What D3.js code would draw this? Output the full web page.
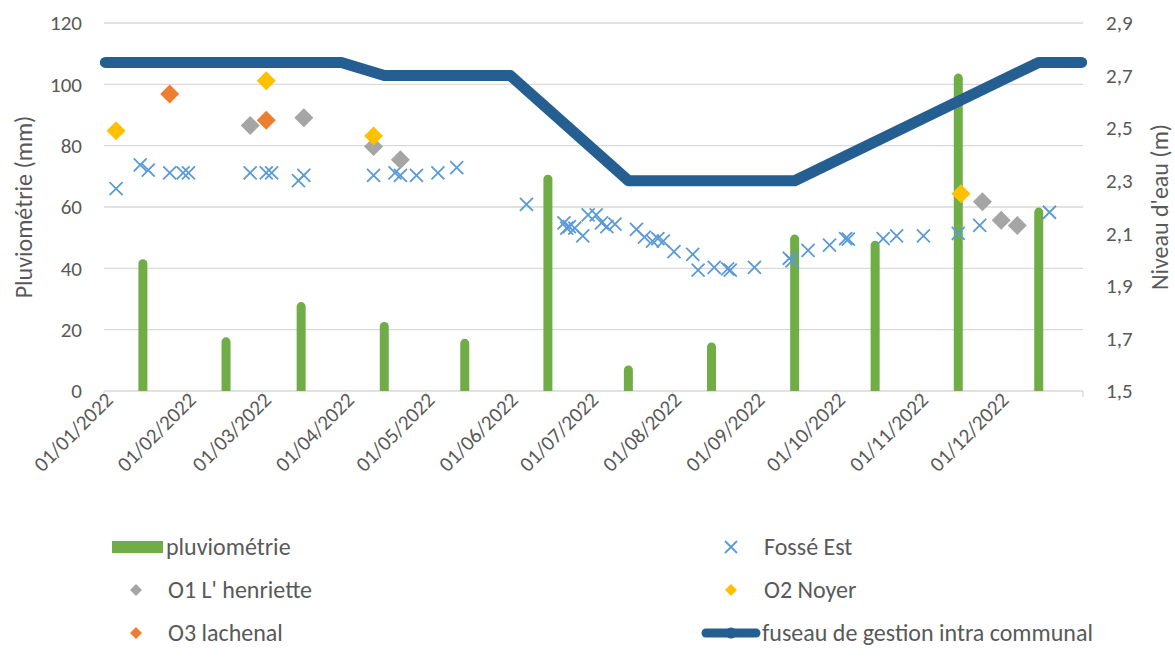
<!DOCTYPE html>
<html><head><meta charset="utf-8">
<script src="https://cdn.jsdelivr.net/npm/d3@7"></script>
<style>
html,body{margin:0;padding:0;background:#fff;}
svg{display:block;font-family:Carlito,Calibri,Lato,sans-serif;}
</style></head>
<body>
<svg id="chart" width="1175" height="669"></svg>
<script>
// ---------- DATA ----------
const rainDates = ["2022-01-15","2022-02-15","2022-03-15","2022-04-15","2022-05-15","2022-06-15","2022-07-15","2022-08-15","2022-09-15","2022-10-15","2022-11-15","2022-12-15"];
const rainValues = [43, 17.5, 29, 22.5, 17, 70.5, 8.3, 15.8, 51, 49, 103.5, 59.8];

const fosseDates = ["2022-01-05","2022-01-14","2022-01-17","2022-01-25","2022-01-30","2022-02-01","2022-02-24","2022-03-02","2022-03-04","2022-03-14","2022-03-16","2022-04-11","2022-04-19","2022-04-21","2022-04-27","2022-05-05","2022-05-12","2022-06-07","2022-06-21","2022-06-22","2022-06-23","2022-06-25","2022-06-28","2022-06-30","2022-07-03","2022-07-05","2022-07-07","2022-07-10","2022-07-18","2022-07-21","2022-07-24","2022-07-26","2022-07-28","2022-08-01","2022-08-08","2022-08-10","2022-08-16","2022-08-21","2022-08-22","2022-08-31","2022-09-13","2022-09-14","2022-09-20","2022-09-28","2022-10-04","2022-10-05","2022-10-18","2022-10-23","2022-11-02","2022-11-15","2022-11-23","2022-12-19"];
const fosseValues = [2.27,2.36,2.34,2.33,2.33,2.33,2.33,2.33,2.33,2.30,2.32,2.32,2.33,2.32,2.32,2.33,2.35,2.21,2.14,2.12,2.125,2.12,2.09,2.17,2.17,2.14,2.125,2.135,2.115,2.085,2.07,2.08,2.07,2.03,2.02,1.96,1.97,1.965,1.96,1.97,2.005,1.995,2.035,2.055,2.08,2.078,2.08,2.09,2.09,2.10,2.13,2.18];

const o1Dates = ["2022-02-24","2022-03-16","2022-04-11","2022-04-21","2022-11-24","2022-12-01","2022-12-07"];
const o1Values = [2.51, 2.54, 2.43, 2.38, 2.22, 2.15, 2.13];

const o2Dates = ["2022-01-05","2022-03-02","2022-04-11","2022-11-16"];
const o2Values = [2.49, 2.68, 2.47, 2.25];

const o3Dates = ["2022-01-25","2022-03-02"];
const o3Values = [2.63, 2.53];

const fuseauDates = ["2022-01-01","2022-03-30","2022-04-15","2022-06-01","2022-07-15","2022-09-15","2022-12-15","2022-12-31"];
const fuseauValues = [2.75, 2.75, 2.70, 2.70, 2.30, 2.30, 2.75, 2.75];

const monthTicks = ["2022-01-01","2022-02-01","2022-03-01","2022-04-01","2022-05-01","2022-06-01","2022-07-01","2022-08-01","2022-09-01","2022-10-01","2022-11-01","2022-12-01"];
const leftTicks = [0, 20, 40, 60, 80, 100, 120];
const rightTicks = [1.5, 1.7, 1.9, 2.1, 2.3, 2.5, 2.7, 2.9];

const seriesNames = ["pluviométrie","Fossé Est","O1 L' henriette","O2 Noyer","O3 lachenal","fuseau de gestion intra communal"];
const colors = {rain:"#70AD47", fosse:"#5B9BD5", o1:"#A5A5A5", o2:"#FFC000", o3:"#ED7D31", fuseau:"#255E91"};

// ---------- SCALES ----------
const parse = d3.timeParse("%Y-%m-%d");
const mid = s => new Date(parse(s).getTime() + 12*3600*1000);
const fmtDate = d3.timeFormat("%d/%m/%Y");

const plot = {left:104, right:1083, top:23, bottom:391};
const x = d3.scaleTime().domain([parse("2022-01-01"), parse("2023-01-01")]).range([plot.left, plot.right]);
const yL = d3.scaleLinear().domain([0,120]).range([plot.bottom, plot.top]);
const yR = d3.scaleLinear().domain([1.5,2.9]).range([plot.bottom, plot.top]);

const svg = d3.select("#chart");
const textColor = "#595959";
const fsNum = 21;   // numeric labels
const fsTxt = 24;   // word labels

// gridlines
svg.append("g").selectAll("line").data(leftTicks.filter(d=>d>0)).join("line")
  .attr("x1", plot.left).attr("x2", plot.right)
  .attr("y1", d=>yL(d)).attr("y2", d=>yL(d))
  .attr("stroke","#D9D9D9").attr("stroke-width",1.3);

// x axis line + ticks
const xAxisG = svg.append("g").attr("transform",`translate(0,${plot.bottom})`);
xAxisG.append("line").attr("x1",plot.left).attr("x2",plot.right).attr("stroke","#D9D9D9").attr("stroke-width",1.3);
const tickDates = monthTicks.map(parse).concat([parse("2023-01-01")]);
xAxisG.selectAll("line.t").data(tickDates).join("line").attr("class","t")
  .attr("x1",d=>x(d)).attr("x2",d=>x(d)).attr("y1",0).attr("y2",6)
  .attr("stroke","#D9D9D9").attr("stroke-width",1.3);
xAxisG.selectAll("text").data(monthTicks.map(parse)).join("text")
  .attr("transform", d=>`translate(${x(d)+5},${5}) rotate(-45)`)
  .attr("text-anchor","end").attr("dy","0.35em")
  .attr("fill",textColor).attr("font-size",fsNum)
  .text(d=>fmtDate(d));

// left axis labels
svg.append("g").selectAll("text").data(leftTicks).join("text")
  .attr("x", 82).attr("y", d=>yL(d)).attr("dy","0.35em")
  .attr("text-anchor","end").attr("fill",textColor).attr("font-size",fsNum)
  .text(d=>d);
// right axis labels
svg.append("g").selectAll("text").data(rightTicks).join("text")
  .attr("x", 1106).attr("y", d=>yR(d)).attr("dy","0.35em")
  .attr("text-anchor","start").attr("fill",textColor).attr("font-size",fsNum)
  .text(d=>d3.format(".1f")(d).replace(".",","));

// axis titles
svg.append("text").attr("transform",`translate(24,207) rotate(-90)`)
  .attr("text-anchor","middle").attr("dy","0.35em").attr("fill",textColor).attr("font-size",fsTxt)
  .text("Pluviométrie (mm)");
svg.append("text").attr("transform",`translate(1160,207) rotate(-90)`)
  .attr("text-anchor","middle").attr("dy","0.35em").attr("fill",textColor).attr("font-size",fsTxt)
  .text("Niveau d'eau (m)");

// bars (rounded top)
const bw = 9, br = 4.5;
const barPath = (cx, top, bottom) => {
  const l = cx - bw/2, r = cx + bw/2;
  return `M${l},${bottom}L${l},${top+br}A${br},${br} 0 0 1 ${r},${top+br}L${r},${bottom}Z`;
};
svg.append("g").selectAll("path").data(rainDates.map((d,i)=>({d:mid(d), v:rainValues[i]}))).join("path")
  .attr("d", p=>barPath(x(p.d), yL(p.v), yL(0)))
  .attr("fill", colors.rain);

// fuseau line
const lineGen = d3.line().x(p=>x(p.d)).y(p=>yR(p.v));
svg.append("path").datum(fuseauDates.map((d,i)=>({d:mid(d), v:fuseauValues[i]})))
  .attr("d", lineGen).attr("fill","none").attr("stroke",colors.fuseau)
  .attr("stroke-width",11).attr("stroke-linejoin","round").attr("stroke-linecap","round");

// crosses
const cs = 6.5;
const crossPath = (cx, cy, s) => `M${cx-s},${cy-s}L${cx+s},${cy+s}M${cx-s},${cy+s}L${cx+s},${cy-s}`;
svg.append("g").selectAll("path").data(fosseDates.map((d,i)=>({d:mid(d), v:fosseValues[i]}))).join("path")
  .attr("d", p=>crossPath(x(p.d), yR(p.v), cs))
  .attr("stroke", colors.fosse).attr("stroke-width",1.8).attr("fill","none");

// diamonds
const ds = 9.5;
const diamondPath = (cx, cy, s) => `M${cx},${cy-s}L${cx+s},${cy}L${cx},${cy+s}L${cx-s},${cy}Z`;
[[o1Dates,o1Values,colors.o1],[o2Dates,o2Values,colors.o2],[o3Dates,o3Values,colors.o3]].forEach(([ds_, vs, c])=>{
  svg.append("g").selectAll("path").data(ds_.map((d,i)=>({d:mid(d), v:vs[i]}))).join("path")
    .attr("d", p=>diamondPath(x(p.d), yR(p.v), ds))
    .attr("fill", c);
});

// ---------- LEGEND ----------
const lg = svg.append("g");
const rows = [547, 590, 633];
// pluviométrie
lg.append("rect").attr("x",112).attr("y",rows[0]-6).attr("width",51).attr("height",12).attr("fill",colors.rain);
lg.append("text").attr("x",166).attr("y",rows[0]).attr("dy","0.35em").attr("fill",textColor).attr("font-size",fsTxt).text(seriesNames[0]);
// Fossé Est
lg.append("path").attr("d",crossPath(731,rows[0],6)).attr("stroke",colors.fosse).attr("stroke-width",1.8);
lg.append("text").attr("x",764).attr("y",rows[0]).attr("dy","0.35em").attr("fill",textColor).attr("font-size",fsTxt).text(seriesNames[1]);
// O1
lg.append("path").attr("d",diamondPath(136,rows[1],6)).attr("fill",colors.o1);
lg.append("text").attr("x",168).attr("y",rows[1]).attr("dy","0.35em").attr("fill",textColor).attr("font-size",fsTxt).text(seriesNames[2]);
// O2
lg.append("path").attr("d",diamondPath(731,rows[1],6)).attr("fill",colors.o2);
lg.append("text").attr("x",764).attr("y",rows[1]).attr("dy","0.35em").attr("fill",textColor).attr("font-size",fsTxt).text(seriesNames[3]);
// O3
lg.append("path").attr("d",diamondPath(136,rows[2],6)).attr("fill",colors.o3);
lg.append("text").attr("x",168).attr("y",rows[2]).attr("dy","0.35em").attr("fill",textColor).attr("font-size",fsTxt).text(seriesNames[4]);
// fuseau
lg.append("line").attr("x1",706).attr("x2",756).attr("y1",rows[2]).attr("y2",rows[2]).attr("stroke",colors.fuseau).attr("stroke-width",9).attr("stroke-linecap","round");
lg.append("circle").attr("cx",731).attr("cy",rows[2]).attr("r",5.5).attr("fill",colors.fuseau);
lg.append("text").attr("x",762).attr("y",rows[2]).attr("dy","0.35em").attr("fill",textColor).attr("font-size",fsTxt).text(seriesNames[5]);
</script>
</body></html>
